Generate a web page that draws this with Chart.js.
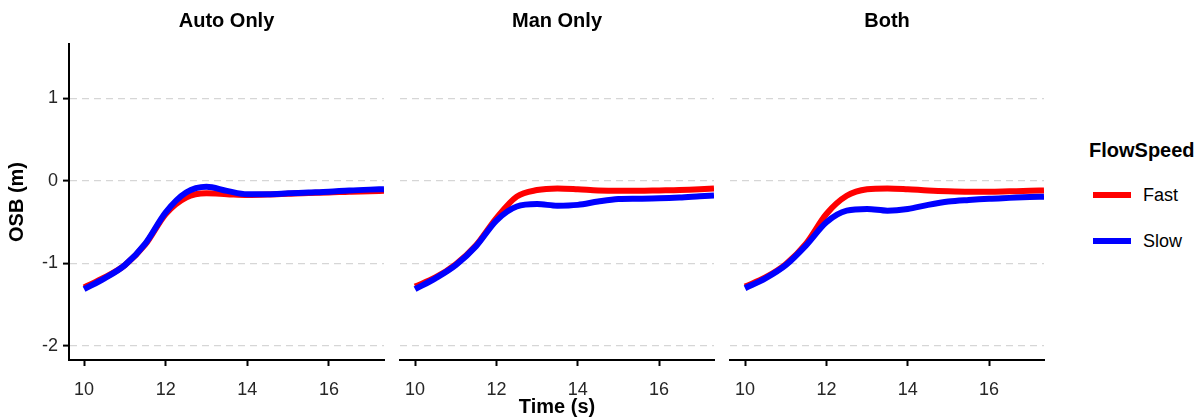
<!DOCTYPE html>
<html><head><meta charset="utf-8">
<script src="https://cdn.jsdelivr.net/npm/chart.js@4/dist/chart.umd.min.js"></script>
<style>
html,body{margin:0;padding:0;background:#fff;width:1204px;height:420px;overflow:hidden;font-family:"Liberation Sans",Arial,sans-serif;}
.pane{position:absolute;top:0;height:420px;}
.lg{position:absolute;white-space:nowrap;color:#000;}
</style></head><body>
<div class="pane" style="left:0;width:390px"><canvas id="c1"></canvas></div>
<div class="pane" style="left:390px;width:330px"><canvas id="c2"></canvas></div>
<div class="pane" style="left:720px;width:330px"><canvas id="c3"></canvas></div>
<div id="legend"></div>
<script>
// ---- data ----
const timeS    = [10, 10.5, 11, 11.5, 12, 12.5, 13, 13.5, 14, 14.5, 15, 15.5, 16, 16.5, 17, 17.35];
const autoFast = [-1.29, -1.17, -1.02, -0.77, -0.40, -0.20, -0.15, -0.16, -0.17, -0.165, -0.155, -0.145, -0.14, -0.13, -0.125, -0.12];
const autoSlow = [-1.31, -1.18, -1.02, -0.76, -0.38, -0.14, -0.07, -0.12, -0.16, -0.16, -0.15, -0.14, -0.13, -0.115, -0.105, -0.10];
const manFast  = [-1.28, -1.17, -1.01, -0.78, -0.45, -0.19, -0.11, -0.09, -0.10, -0.115, -0.12, -0.12, -0.115, -0.11, -0.10, -0.09];
const manSlow  = [-1.31, -1.18, -1.02, -0.79, -0.48, -0.31, -0.28, -0.30, -0.29, -0.25, -0.22, -0.215, -0.21, -0.20, -0.185, -0.175];
const bothFast = [-1.28, -1.17, -1.01, -0.76, -0.40, -0.18, -0.10, -0.09, -0.10, -0.115, -0.125, -0.13, -0.13, -0.125, -0.12, -0.115];
const bothSlow = [-1.30, -1.18, -1.02, -0.78, -0.50, -0.36, -0.34, -0.36, -0.34, -0.29, -0.25, -0.23, -0.215, -0.205, -0.195, -0.19];
const panelTitles = ['Auto Only', 'Man Only', 'Both'];
const seriesNames = ['Fast', 'Slow'];
const seriesColors = ['#FF0000', '#0000FF'];
const xTicks = [10, 12, 14, 16];
const yTicks = [-2, -1, 0, 1];
const xTitle = 'Time (s)';
const yTitle = 'OSB (m)';
const legendTitle = 'FlowSpeed';

const FONT = '"Liberation Sans", Arial, sans-serif';
const panelData = [[autoFast, autoSlow], [manFast, manSlow], [bothFast, bothSlow]];

function makeChart(id, idx) {
  const first = idx === 0;
  const datasets = panelData[idx].map((arr, s) => ({
    label: seriesNames[s],
    data: timeS.map((t, i) => ({x: t, y: arr[i]})),
    borderColor: seriesColors[s],
    backgroundColor: seriesColors[s],
    borderWidth: 6,
    pointRadius: 0,
    cubicInterpolationMode: 'monotone',
    fill: false,
    clip: 0,
    order: seriesNames.length - s,
    borderCapStyle: 'butt'
  }));
  return new Chart(document.getElementById(id), {
    type: 'line',
    data: {datasets},
    options: {
      responsive: true,
      maintainAspectRatio: false,
      animation: false,
      events: [],
      layout: {padding: {left: 0, right: 6, top: 0, bottom: 0}},
      plugins: {
        legend: {display: false},
        tooltip: {enabled: false},
        title: {
          display: true,
          text: panelTitles[idx],
          fullSize: false,
          color: '#000',
          font: {family: FONT, size: 20, weight: 'bold', lineHeight: 1.2},
          padding: {top: 9, bottom: 11}
        }
      },
      scales: {
        x: {
          type: 'linear',
          min: 9.63, max: 17.35,
          afterBuildTicks: (sc) => { sc.ticks = xTicks.map(v => ({value: v})); },
          afterFit: (sc) => { sc.height = 60; },
          grid: {display: true, drawOnChartArea: false, drawTicks: true, tickLength: 6, tickColor: '#000', tickWidth: 2, tickBorderDash: []},
          border: {display: true, color: '#000', width: 2},
          ticks: {color: '#262626', font: {family: FONT, size: 18}, padding: 13, maxRotation: 0, autoSkip: false},
          title: {display: idx === 1, text: xTitle, color: '#000', font: {family: FONT, size: 20, weight: 'bold', lineHeight: 1.2}, padding: {top: 0, bottom: 1}}
        },
        y: {
          type: 'linear',
          min: -2.17, max: 1.66,
          afterBuildTicks: (sc) => { sc.ticks = yTicks.map(v => ({value: v})); },
          afterFit: (sc) => { sc.width = first ? 69 : 10; },
          grid: {display: true, color: '#d6d6d6', lineWidth: 1.2, drawTicks: first, tickLength: 6, tickColor: '#000', tickWidth: 2, tickBorderDash: []},
          border: {display: first, color: '#000', width: 2, dash: [7, 5]},
          ticks: {display: first, color: '#262626', font: {family: FONT, size: 18}, padding: 5},
          title: {display: first, text: yTitle, color: '#000', font: {family: FONT, size: 20, weight: 'bold', lineHeight: 1.2}, padding: {top: 5, bottom: 0}}
        }
      }
    }
  });
}
makeChart('c1', 0);
makeChart('c2', 1);
makeChart('c3', 2);

// ---- legend (HTML) ----
const lg = document.getElementById('legend');
const t = document.createElement('div');
t.className = 'lg';
t.style.cssText = 'left:1089px;top:138px;font-size:20px;font-weight:bold;line-height:24px;';
t.textContent = legendTitle;
lg.appendChild(t);
seriesNames.forEach((name, s) => {
  const cy = 195 + s * 46;
  const key = document.createElement('div');
  key.className = 'lg';
  key.style.cssText = `left:1093px;top:${cy - 3}px;width:38px;height:6px;background:${seriesColors[s]};`;
  lg.appendChild(key);
  const lab = document.createElement('div');
  lab.className = 'lg';
  lab.style.cssText = `left:1143px;top:${cy - 11}px;font-size:18px;line-height:22px;`;
  lab.textContent = name;
  lg.appendChild(lab);
});
</script>
</body></html>
